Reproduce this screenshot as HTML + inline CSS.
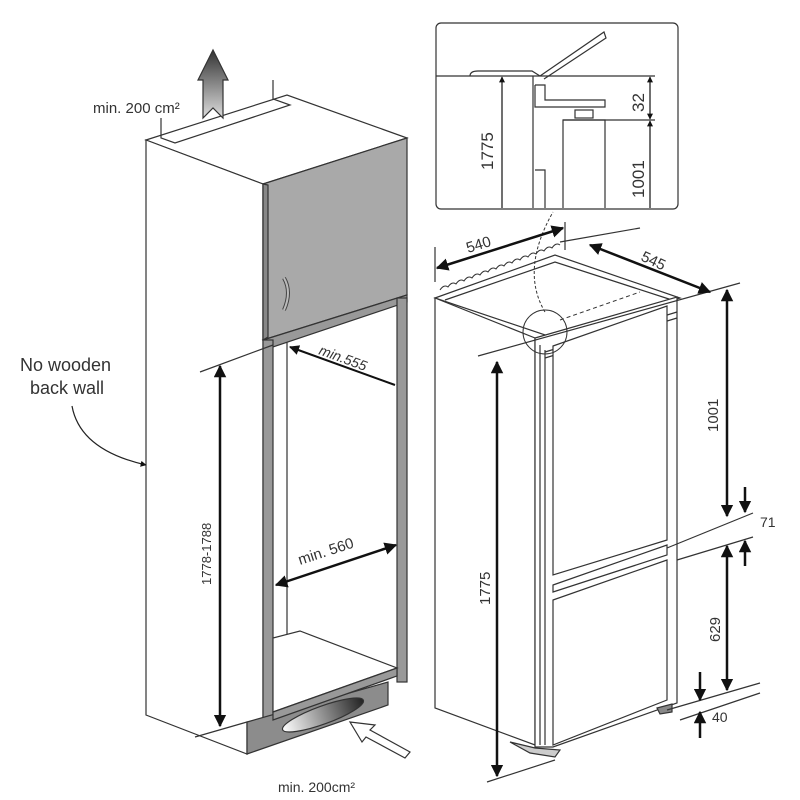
<!DOCTYPE html>
<html><head><meta charset="utf-8"><style>
html,body{margin:0;padding:0;background:#fff}
svg{display:block}
text{font-family:"Liberation Sans",sans-serif;fill:#333}
</style></head><body>
<svg width="800" height="800" viewBox="0 0 800 800" xmlns="http://www.w3.org/2000/svg">
<defs>
<marker id="a" viewBox="0 0 10 10" refX="9" refY="5" markerWidth="5" markerHeight="5" orient="auto-start-reverse"><path d="M0,0L10,5L0,10z" fill="#111"/></marker>
<linearGradient id="up" x1="0" y1="0" x2="0" y2="1"><stop offset="0" stop-color="#333"/><stop offset="1" stop-color="#ddd"/></linearGradient>
<linearGradient id="ov" x1="0" y1="0" x2="1" y2="0"><stop offset="0" stop-color="#fff"/><stop offset="1" stop-color="#222"/></linearGradient>
</defs>
<g stroke="#333" stroke-width="1.2" fill="none">
<!-- LEFT CABINET -->
<polygon points="146,140 287,95 407,138 263,184" fill="#fff"/>
<polyline points="161,118 161,138 175,143 290,105 273,99 273,80"/>
<polygon points="146,140 263,184 263,720 247,722 247,754 146,715" fill="#fff"/>
<polygon points="263,184 407,138 407,295 263,340" fill="#a9a9a9"/>
<polygon points="263,184 268,185 268,337 263,340" fill="#888"/>
<path d="M284,278 Q292,292 284,310" stroke="#444" stroke-width="4"/>
<path d="M284,278 Q292,292 284,310" stroke="#bbb" stroke-width="2"/>
<polygon points="263,340 407,295 407,302 273,347" fill="#999"/>
<rect x="263" y="340" width="10" height="380" fill="#999"/>
<rect x="397" y="298" width="10" height="384" fill="#999"/>
<line x1="287" y1="342" x2="287" y2="634"/>
<polygon points="273,638 300,631 397,668 273,712" fill="#fff"/>
<polygon points="247,722 388,682 388,705 247,754" fill="#8c8c8c"/>
<polygon points="273,712 397,668 397,676 273,720" fill="#999"/>
<ellipse cx="323" cy="715" rx="43" ry="9" transform="rotate(-20 323 715)" fill="url(#ov)"/>
<!-- dims left -->
<line x1="200" y1="372" x2="273" y2="345"/>
<line x1="195" y1="737" x2="247" y2="722"/>
<line x1="220" y1="366" x2="220" y2="726" stroke="#111" stroke-width="2.5" marker-start="url(#a)" marker-end="url(#a)"/>
<line x1="290" y1="347" x2="395" y2="385" stroke="#111" stroke-width="2" marker-start="url(#a)"/>
<line x1="276" y1="585" x2="396" y2="545" stroke="#111" stroke-width="2.5" marker-start="url(#a)" marker-end="url(#a)"/>
<path d="M72,406 Q80,450 146,465" stroke="#222" stroke-width="1.2" marker-end="url(#a)"/>
<path d="M203,118 L203,80 L198,80 L213,50 L228,80 L223,80 L223,118 L213,108 Z" fill="url(#up)"/>
<path d="M410,752 L370,730 L375,725 L350,722 L362,742 L366,737 L405,758 Z" fill="#fff"/>
<!-- RIGHT FRIDGE -->
<polygon points="435,298 555,255 680,298 560,340" fill="#fff"/>
<polyline points="445,300 555,262 672,300"/>
<path d="M440,290 q4,-6 8,-3 q4,-6 8,-3 q4,-6 8,-3 q4,-6 8,-3 q4,-6 8,-3 q4,-6 8,-3 q4,-6 8,-3 q4,-6 8,-3 q4,-6 8,-3 q4,-6 8,-3 q4,-6 8,-3 q4,-6 8,-3 q4,-6 8,-3 q4,-6 8,-3 q4,-6 8,-3" stroke-width="1"/>
<polygon points="435,298 535,338 535,745 435,708" fill="#fff"/>
<polygon points="535,338 677,297 677,703 553,747 535,747" fill="#fff"/>
<polyline points="545,352 677,312"/>
<polyline points="545,358 677,318"/>
<line x1="540" y1="345" x2="540" y2="745"/>
<line x1="545" y1="350" x2="545" y2="745"/>
<polygon points="553,346 667,306 667,540 553,575" fill="#fff"/>
<polygon points="553,585 667,545 667,555 553,592" fill="#fff"/>
<polygon points="553,600 667,560 667,700 553,745" fill="#fff"/>
<circle cx="545" cy="332" r="22" stroke-width="1"/>
<path d="M545,312 Q520,270 553,212" stroke-dasharray="3,2" stroke-width="1"/>
<path d="M560,320 L640,292" stroke-dasharray="4,3" stroke-width="1"/>
<polygon points="510,742 535,748 560,750 555,757 530,753" fill="#ccc"/>
<polygon points="657,708 672,704 672,712 660,714" fill="#888"/>
<!-- dims right -->
<line x1="478" y1="356" x2="740" y2="283"/>
<line x1="435" y1="247" x2="435" y2="282"/>
<line x1="565" y1="222" x2="565" y2="250"/>
<line x1="437" y1="268" x2="563" y2="228" stroke="#111" stroke-width="2.5" marker-start="url(#a)" marker-end="url(#a)"/>
<line x1="560" y1="242" x2="640" y2="228"/>
<line x1="590" y1="245" x2="710" y2="292" stroke="#111" stroke-width="2.5" marker-start="url(#a)" marker-end="url(#a)"/>
<line x1="497" y1="362" x2="497" y2="776" stroke="#111" stroke-width="2.5" marker-start="url(#a)" marker-end="url(#a)"/>
<line x1="487" y1="782" x2="555" y2="760"/>
<line x1="727" y1="290" x2="727" y2="516" stroke="#111" stroke-width="2.5" marker-start="url(#a)" marker-end="url(#a)"/>
<line x1="667" y1="548" x2="753" y2="513"/>
<line x1="677" y1="560" x2="753" y2="537"/>
<line x1="745" y1="487" x2="745" y2="512" stroke="#111" stroke-width="2.5" marker-end="url(#a)"/>
<line x1="745" y1="566" x2="745" y2="541" stroke="#111" stroke-width="2.5" marker-end="url(#a)"/>
<line x1="727" y1="546" x2="727" y2="690" stroke="#111" stroke-width="2.5" marker-start="url(#a)" marker-end="url(#a)"/>
<line x1="667" y1="710" x2="760" y2="683"/>
<line x1="680" y1="720" x2="760" y2="693"/>
<line x1="700" y1="672" x2="700" y2="700" stroke="#111" stroke-width="2.5" marker-end="url(#a)"/>
<line x1="700" y1="738" x2="700" y2="712" stroke="#111" stroke-width="2.5" marker-end="url(#a)"/>
<!-- INSET -->
<rect x="436" y="23" width="242" height="186" rx="5" fill="#fff"/>
<line x1="436" y1="76" x2="655" y2="76"/>
<path d="M470,76 q0,-5 8,-5 L532,71 L540,76 M540,76 L604,32 L606,38 L544,79"/>
<line x1="502" y1="77" x2="502" y2="208" stroke="#111" marker-start="url(#a)"/>
<line x1="533" y1="76" x2="533" y2="208"/>
<polyline points="535,85 545,85 545,100 605,100 605,107 535,107 535,85"/>
<rect x="575" y="110" width="18" height="8"/>
<polyline points="563,208 563,120 605,120 605,208"/>
<polyline points="535,170 545,170 545,208 M550,208 L550,170 L557,165 L557,208"/>
<line x1="563" y1="120" x2="655" y2="120"/>
<line x1="650" y1="77" x2="650" y2="119" stroke="#111" marker-start="url(#a)" marker-end="url(#a)"/>
<line x1="650" y1="121" x2="650" y2="208" stroke="#111" marker-start="url(#a)"/>
</g>
<g font-size="15">
<text x="93" y="113">min. 200 cm²</text>
<text x="20" y="371" font-size="18">No wooden</text>
<text x="30" y="394" font-size="18">back wall</text>
<text x="0" y="0" transform="translate(211,585) rotate(-90)" font-size="13">1778-1788</text>
<text x="0" y="0" transform="translate(318,354) rotate(20)" font-style="italic" font-size="14">min.555</text>
<text x="0" y="0" transform="translate(300,565) rotate(-18)" font-size="15">min. 560</text>
<text x="278" y="792" font-size="14">min. 200cm²</text>
<text x="0" y="0" transform="translate(468,253) rotate(-17)">540</text>
<text x="0" y="0" transform="translate(640,260) rotate(25)">545</text>
<text x="0" y="0" transform="translate(490,605) rotate(-90)">1775</text>
<text x="0" y="0" transform="translate(718,432) rotate(-90)">1001</text>
<text x="760" y="527" font-size="14">71</text>
<text x="0" y="0" transform="translate(720,642) rotate(-90)">629</text>
<text x="712" y="722" font-size="14">40</text>
<text x="0" y="0" transform="translate(493,170) rotate(-90)" font-size="17">1775</text>
<text x="0" y="0" transform="translate(644,112) rotate(-90)" font-size="17">32</text>
<text x="0" y="0" transform="translate(644,198) rotate(-90)" font-size="17">1001</text>
</g>
</svg>
</body></html>
